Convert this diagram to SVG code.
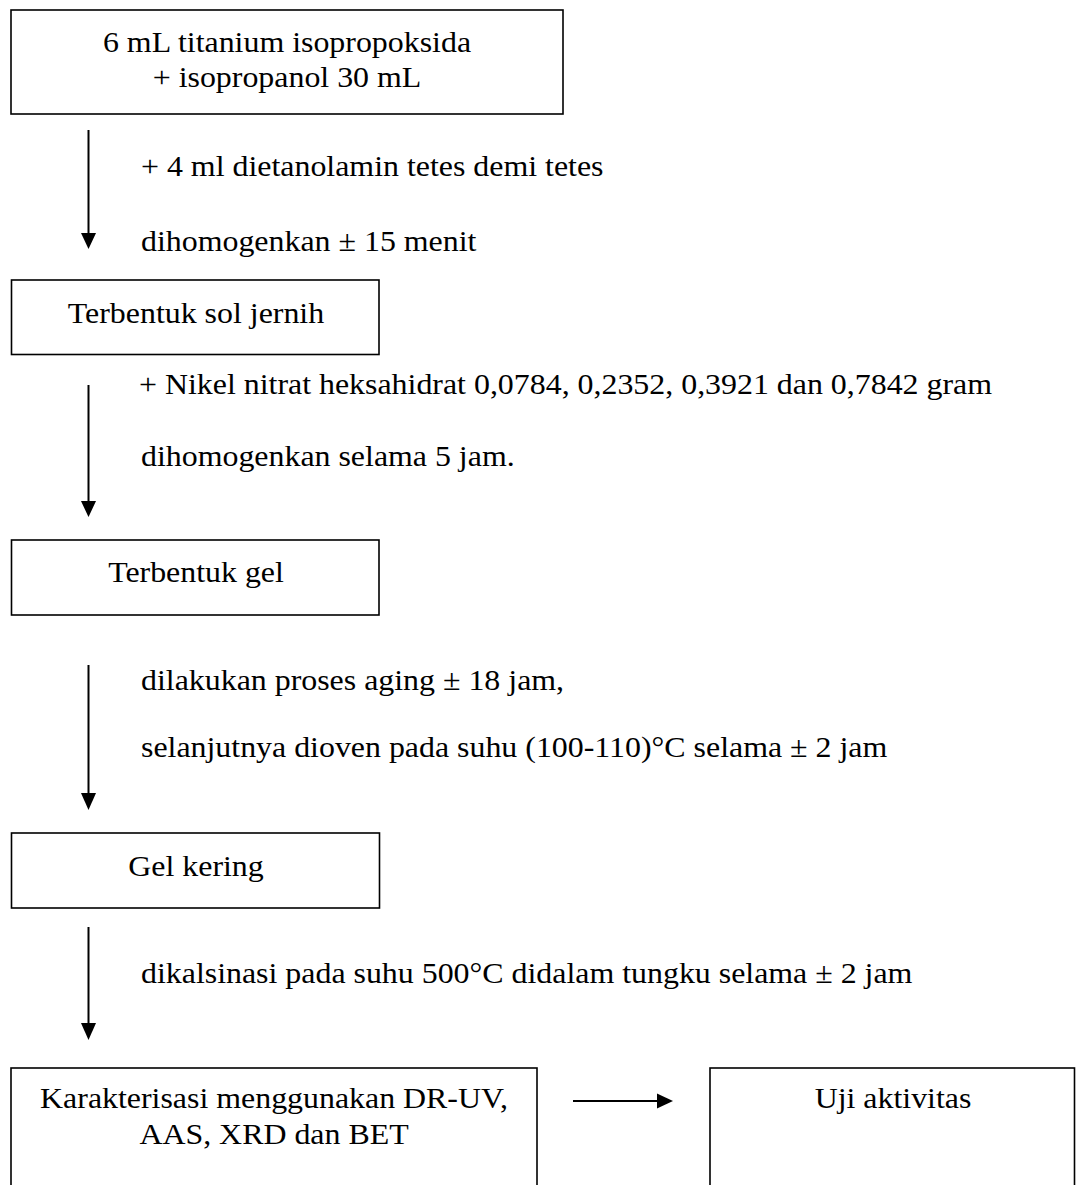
<svg xmlns="http://www.w3.org/2000/svg" width="1076" height="1185" viewBox="0 0 1076 1185">
<style>
  .box { fill: #ffffff; stroke: #000000; stroke-width: 1.6; }
  .t { font-family: "Liberation Serif", "Times New Roman", serif; font-size: 29px; fill: #000000; }
  .c { text-anchor: middle; }
  .ln { stroke: #000000; stroke-width: 2; fill: none; }
  .hd { fill: #000000; stroke: none; }
</style>
<rect width="1076" height="1185" fill="#ffffff"/>
<g id="node-start">
  <rect class="box" x="11" y="10" width="552" height="104"/>
  <text class="t c" transform="translate(287,52) scale(1.1,1)">6 mL titanium isopropoksida</text>
  <text class="t c" transform="translate(287,87) scale(1.1,1)">+ isopropanol 30 mL</text>
</g>
<g id="node-sol">
  <rect class="box" x="11.5" y="280" width="367.5" height="74.5"/>
  <text class="t c" transform="translate(196,323) scale(1.1,1)">Terbentuk sol jernih</text>
</g>
<g id="node-gel">
  <rect class="box" x="11.5" y="540" width="367.5" height="75"/>
  <text class="t c" transform="translate(196,582) scale(1.1,1)">Terbentuk gel</text>
</g>
<g id="node-gelkering">
  <rect class="box" x="11.5" y="833" width="368" height="75"/>
  <text class="t c" transform="translate(196,876) scale(1.1,1)">Gel kering</text>
</g>
<g id="node-karakterisasi">
  <rect class="box" x="11" y="1068" width="526" height="140"/>
  <text class="t c" transform="translate(274,1108) scale(1.1,1)">Karakterisasi menggunakan DR-UV,</text>
  <text class="t c" transform="translate(274,1144) scale(1.1,1)">AAS, XRD dan BET</text>
</g>
<g id="node-uji">
  <rect class="box" x="710" y="1068" width="364.5" height="140"/>
  <text class="t c" transform="translate(893,1108) scale(1.1,1)">Uji aktivitas</text>
</g>
<g id="connectors">
  <line class="ln" x1="88.5" y1="130" x2="88.5" y2="235"/>
  <polygon class="hd" points="81,233 96,233 88.5,249"/>
  <line class="ln" x1="88.5" y1="385" x2="88.5" y2="503"/>
  <polygon class="hd" points="81,501 96,501 88.5,517"/>
  <line class="ln" x1="88.5" y1="665" x2="88.5" y2="795"/>
  <polygon class="hd" points="81,793 96,793 88.5,810"/>
  <line class="ln" x1="88.5" y1="927" x2="88.5" y2="1025"/>
  <polygon class="hd" points="81,1023 96,1023 88.5,1040"/>
  <line class="ln" x1="573" y1="1101" x2="659" y2="1101"/>
  <polygon class="hd" points="657,1093.5 657,1108.5 673,1101"/>
</g>
<g id="labels">
  <text class="t" transform="translate(141,176) scale(1.1,1)">+ 4 ml dietanolamin tetes demi tetes</text>
  <text class="t" transform="translate(141,251) scale(1.1,1)">dihomogenkan ± 15 menit</text>
  <text class="t" transform="translate(139,394) scale(1.1,1)">+ Nikel nitrat heksahidrat 0,0784, 0,2352, 0,3921 dan 0,7842 gram</text>
  <text class="t" transform="translate(141,466) scale(1.1,1)">dihomogenkan selama 5 jam.</text>
  <text class="t" transform="translate(141,690) scale(1.1,1)">dilakukan proses aging ± 18 jam,</text>
  <text class="t" transform="translate(141,757) scale(1.1,1)">selanjutnya dioven pada suhu (100-110)°C selama ± 2 jam</text>
  <text class="t" transform="translate(141,983) scale(1.1,1)">dikalsinasi pada suhu 500°C didalam tungku selama ± 2 jam</text>
</g>
</svg>
